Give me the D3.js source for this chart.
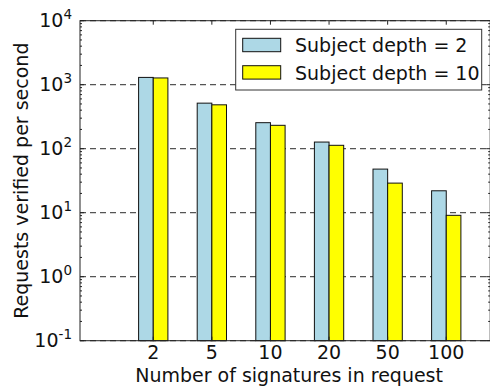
<!DOCTYPE html>
<html>
  <head>
    <script src="https://cdn.jsdelivr.net/npm/d3@7/dist/d3.min.js"></script>
    <style>
      body { margin: 0; background: white; }
      svg { display: block; font-family: 'DejaVu Sans', sans-serif; }
    </style>
  </head>
  <body>
    <script>
      const categories = ['2', '5', '10', '20', '50', '100']
      const depth2 = [1300, 515, 255, 127, 48, 22]
      const depth10 = [1275, 485, 232, 113, 29, 9.1]
      const seriesNames = ['Subject depth = 2', 'Subject depth = 10']
      const seriesColors = ['#add8e6', '#ffff00']
      const yTicks = [-1, 0, 1, 2, 3, 4]

      const W = 490, H = 387
      const m = {left: 80, right: 490.2, top: 20.7, bottom: 340.7}
      const fs = 19

      const svg = d3.select('body').append('svg').attr('width', W).attr('height', H)

      const x = d3.scaleLinear().domain([0, 7]).range([m.left, m.right])
      const y = d3.scaleLog().domain([0.1, 1e4]).range([m.bottom, m.top])
      const bw = x(0.25) - x(0)

      // grid
      svg.append('g').selectAll('line').data(yTicks).join('line')
        .attr('x1', m.left).attr('x2', m.right)
        .attr('y1', d => y(Math.pow(10, d))).attr('y2', d => y(Math.pow(10, d)))
        .attr('stroke', '#555').attr('stroke-width', 1.2)
        .attr('stroke-dasharray', '6,4')

      // bars
      const series = [depth2, depth10]
      series.forEach((vals, s) => {
        svg.append('g').selectAll('rect').data(vals).join('rect')
          .attr('x', (d, i) => x(i + 1 + s * 0.25))
          .attr('y', d => y(d))
          .attr('width', bw)
          .attr('height', d => m.bottom - y(d))
          .attr('fill', seriesColors[s])
          .attr('stroke', '#111').attr('stroke-width', 1)
      })

      // spines
      svg.append('rect')
        .attr('x', m.left).attr('y', m.top)
        .attr('width', m.right - m.left).attr('height', m.bottom - m.top)
        .attr('fill', 'none').attr('stroke', '#222').attr('stroke-width', 1)

      // y ticks, major + minor, inward on both sides
      const minor = []
      for (let e = -1; e < 4; e++) {
        for (let k = 2; k < 10; k++) minor.push(k * Math.pow(10, e))
      }
      const tk = svg.append('g').attr('stroke', '#222').attr('stroke-width', 1)
      yTicks.forEach(e => {
        const yy = y(Math.pow(10, e))
        tk.append('line').attr('x1', m.left).attr('x2', m.left + 4).attr('y1', yy).attr('y2', yy)
        tk.append('line').attr('x1', m.right).attr('x2', m.right - 4).attr('y1', yy).attr('y2', yy)
      })
      minor.forEach(v => {
        const yy = y(v)
        tk.append('line').attr('x1', m.left).attr('x2', m.left + 2).attr('y1', yy).attr('y2', yy)
        tk.append('line').attr('x1', m.right).attr('x2', m.right - 2).attr('y1', yy).attr('y2', yy)
      })
      categories.forEach((c, i) => {
        const xx = x(i + 1.25)
        tk.append('line').attr('x1', xx).attr('x2', xx).attr('y1', m.top).attr('y2', m.top + 4)
        tk.append('line').attr('x1', xx).attr('x2', xx).attr('y1', m.bottom).attr('y2', m.bottom - 4)
      })

      // y tick labels
      const yl = svg.append('g').selectAll('text').data(yTicks).join('text')
        .attr('x', 72).attr('y', d => y(Math.pow(10, d)) + 6.5)
        .attr('text-anchor', 'end').attr('font-size', fs).attr('fill', '#111')
      yl.append('tspan').text('10')
      yl.append('tspan').attr('dy', -8.5).attr('font-size', 13.5).text(d => d)

      // x tick labels
      svg.append('g').selectAll('text').data(categories).join('text')
        .attr('x', (d, i) => x(i + 1.25)).attr('y', 358.5)
        .attr('text-anchor', 'middle').attr('font-size', fs).attr('fill', '#111')
        .text(d => d)

      // axis labels
      svg.append('text')
        .attr('x', (m.left + m.right) / 2 + 4).attr('y', 381.5)
        .attr('text-anchor', 'middle').attr('font-size', fs).attr('fill', '#111')
        .text('Number of signatures in request')
      svg.append('text')
        .attr('transform', `translate(27.5, ${(m.top + m.bottom) / 2}) rotate(-90)`)
        .attr('text-anchor', 'middle').attr('font-size', fs).attr('fill', '#111')
        .text('Requests verified per second')

      // legend
      const lg = svg.append('g')
      lg.append('rect').attr('x', 235.7).attr('y', 29.3).attr('width', 246).attr('height', 60.7)
        .attr('fill', 'white').attr('stroke', '#333').attr('stroke-width', 1)
      seriesNames.forEach((n, s) => {
        const yy = 38.3 + s * 27.4
        lg.append('rect').attr('x', 242.7).attr('y', yy).attr('width', 38).attr('height', 13.4)
          .attr('fill', seriesColors[s]).attr('stroke', '#111').attr('stroke-width', 1)
        lg.append('text').attr('x', 295).attr('y', yy + 14).attr('font-size', fs).attr('fill', '#111')
          .text(n)
      })
    </script>
  </body>
</html>
